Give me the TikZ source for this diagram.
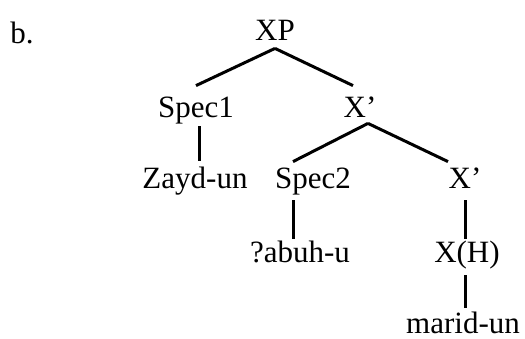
\documentclass[tikz,border=0pt]{standalone}
\usepackage{fontspec}
\setmainfont{Liberation Serif}
\begin{document}
\begin{tikzpicture}[x=0.5pt,y=-0.5pt]
  \tikzstyle{lbl} = [anchor=base, inner sep=1.5pt, text height=10pt, text depth=3pt, font=\fontsize{15.5}{18}\selectfont]
  \tikzstyle{branch} = [line width=1.5pt]
  \useasboundingbox (0,0) rectangle (525,338);
  \node (ex) [lbl] at (22,43) {b.};
  % top
  \node (xp) [lbl] at (275,40) {XP};
  % second row
  \node (spec1) [lbl] at (196,117) {Spec1};
  \node (xbar1) [lbl] at (360,117) {X'};
  % third row
  \node (zayd) [lbl] at (195,188) {Zayd-un};
  \node (spec2) [lbl] at (313,188) {Spec2};
  \node (xbar2) [lbl] at (465,188) {X'};
  % fourth row
  \node (abuh) [lbl] at (300,262) {?abuh-u};
  \node (head) [lbl] at (467,262) {X(H)};
  % last row
  \node (marid) [lbl] at (463,333) {marid-un};
  \draw [branch] ([yshift=0.5pt]xp.south) -- ([yshift=4pt]spec1.north);
  \draw [branch] ([yshift=0.5pt]xp.south) -- ([xshift=-3.5pt,yshift=4pt]xbar1.north);
  \draw [branch] ([xshift=1.5pt]spec1.south) -- ([xshift=2pt,yshift=2pt]zayd.north);
  \draw [branch] ([xshift=4pt,yshift=1.5pt]xbar1.south) -- ([xshift=-10pt,yshift=1.5pt]spec2.north);
  \draw [branch] ([xshift=4pt,yshift=1.5pt]xbar1.south) -- ([xshift=-8.5pt,yshift=1.5pt]xbar2.north);
  \draw [branch] ([xshift=-10pt,yshift=-1.5pt]spec2.south) -- ([xshift=-3.5pt]abuh.north);
  \draw [branch] ([yshift=-1.5pt]xbar2.south) -- ([xshift=-1pt]head.north);
  \draw [branch] ([xshift=-1pt,yshift=-2pt]head.south) -- ([xshift=1pt,yshift=1pt]marid.north);
\end{tikzpicture}
\end{document}
